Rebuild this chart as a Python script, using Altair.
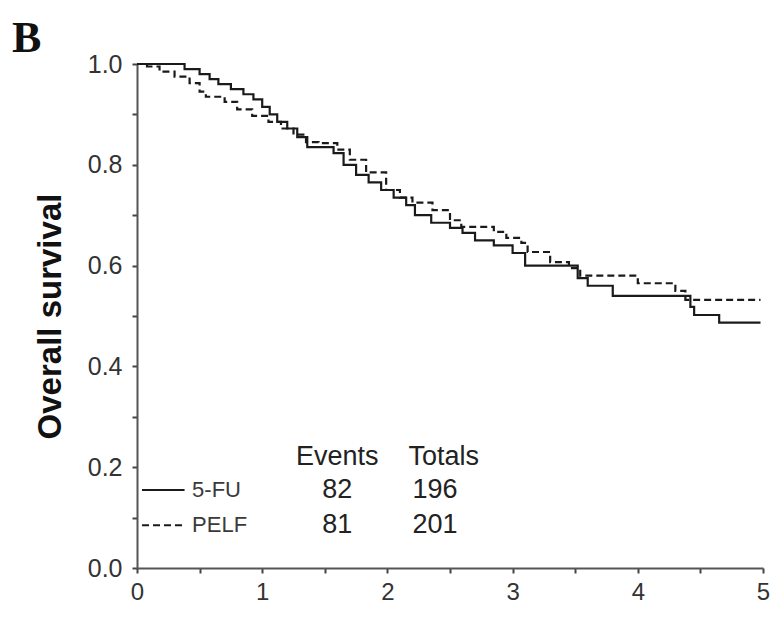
import altair as alt
import pandas as pd

# Kaplan-Meier step points (time in years, survival)
fu_time = [0, 0.38, 0.50, 0.58, 0.65, 0.75, 0.85, 0.93, 1.00, 1.06, 1.12, 1.20, 1.28, 1.36,
           1.57, 1.65, 1.75, 1.85, 1.95, 2.05, 2.15, 2.22, 2.35, 2.50, 2.60, 2.70, 2.85,
           3.00, 3.10, 3.52, 3.60, 3.80, 4.42, 4.45, 4.65, 4.98]
fu_surv = [1.0, 0.99, 0.98, 0.97, 0.96, 0.95, 0.94, 0.93, 0.915, 0.90, 0.885, 0.872, 0.855, 0.835,
           0.823, 0.80, 0.78, 0.765, 0.75, 0.735, 0.72, 0.70, 0.685, 0.675, 0.665, 0.65, 0.64,
           0.625, 0.60, 0.575, 0.56, 0.54, 0.518, 0.502, 0.487, 0.487]

pelf_time = [0, 0.08, 0.18, 0.30, 0.42, 0.50, 0.55, 0.70, 0.80, 0.92, 1.05, 1.15, 1.25, 1.35,
             1.45, 1.60, 1.70, 1.83, 1.99, 2.10, 2.20, 2.36, 2.50, 2.59, 2.85, 2.95, 3.07,
             3.12, 3.30, 3.45, 3.54, 4.00, 4.30, 4.38, 4.98]
pelf_surv = [1.0, 0.995, 0.985, 0.975, 0.962, 0.945, 0.935, 0.925, 0.91, 0.897, 0.885, 0.872, 0.86, 0.845,
             0.843, 0.83, 0.81, 0.785, 0.75, 0.735, 0.725, 0.71, 0.69, 0.677, 0.667, 0.655, 0.645,
             0.627, 0.607, 0.595, 0.58, 0.565, 0.55, 0.532, 0.532]

groups = ["5-FU", "PELF"]
events = [82, 81]
totals = [196, 201]
headers = ["Events", "Totals"]

curves = pd.concat([
    pd.DataFrame({"t": fu_time, "s": fu_surv, "group": groups[0]}),
    pd.DataFrame({"t": pelf_time, "s": pelf_surv, "group": groups[1]}),
])

legend_df = pd.DataFrame({"group": groups, "events": events, "totals": totals,
                          "row": [0.155, 0.085]})
header_df = pd.DataFrame({"h": headers, "pos": [1.60, 2.45]})

dash = alt.StrokeDash("group:N", scale=alt.Scale(domain=groups, range=[[1, 0], [7, 4]]), legend=None)

x_axis = alt.Axis(values=[i * 0.5 for i in range(11)],
                  labelExpr="datum.value % 1 == 0 ? format(datum.value, 'd') : ''",
                  title=None, grid=False, labelFlush=False, labelFontSize=24, labelColor="#333",
                  labelFont="Liberation Sans", labelPadding=7, tickSize=5, tickWidth=2,
                  tickColor="#444", domainColor="#555", domainWidth=2)
y_axis = alt.Axis(values=[i / 10 for i in range(11)],
                  labelExpr="round(datum.value * 10) % 2 == 0 ? format(datum.value, '.1f') : ''",
                  title="Overall survival", titleFontSize=33, titleFont="Liberation Sans",
                  titleFontWeight="bold", titleColor="#111", titlePadding=20,
                  grid=False, labelFlush=False, labelFontSize=25, labelColor="#333",
                  labelFont="Liberation Sans", labelPadding=10, tickSize=5, tickWidth=2,
                  tickColor="#444", domainColor="#555", domainWidth=2)

xs = alt.Scale(domain=[0, 5], nice=False)
ys = alt.Scale(domain=[0, 1], nice=False)

lines = alt.Chart(curves).mark_line(interpolate="step-after", strokeWidth=2.2, color="#1a1a1a").encode(
    x=alt.X("t:Q", scale=xs, axis=x_axis),
    y=alt.Y("s:Q", scale=ys, axis=y_axis),
    strokeDash=dash,
    detail="group:N",
)

leg_lines = alt.Chart(legend_df).mark_rule(strokeWidth=2, color="#1a1a1a").encode(
    x=alt.datum(0.04), x2=alt.datum(0.38), y=alt.Y("row:Q"), strokeDash=dash,
)
leg_labels = alt.Chart(legend_df).mark_text(align="left", baseline="middle", fontSize=22,
                                             font="Liberation Sans", color="#3a3a3a").encode(
    x=alt.datum(0.44), y=alt.Y("row:Q"), text="group:N")
ev_text = alt.Chart(legend_df).mark_text(align="center", baseline="middle", fontSize=27,
                                          font="Liberation Sans", color="#222").encode(
    x=alt.datum(1.60), y=alt.Y("row:Q"), text="events:Q")
tot_text = alt.Chart(legend_df).mark_text(align="center", baseline="middle", fontSize=27,
                                           font="Liberation Sans", color="#222").encode(
    x=alt.datum(2.38), y=alt.Y("row:Q"), text="totals:Q")
hdr_text = alt.Chart(header_df).mark_text(align="center", baseline="middle", fontSize=27,
                                           font="Liberation Sans", color="#222").encode(
    x=alt.X("pos:Q"), y=alt.datum(0.22), text="h:N")

chart = alt.layer(lines, leg_lines, leg_labels, ev_text, tot_text, hdr_text).properties(
    width=626, height=504,
    title=alt.TitleParams("B", anchor="start", frame="group", dx=-125, offset=-9,
                          fontSize=44, font="Liberation Serif", fontWeight="bold", color="#111"),
    autosize=alt.AutoSizeParams(type="none"),
    padding={"left": 129, "top": 56, "right": 7, "bottom": 41},
).configure_view(stroke=None)

chart.save("out.html", embed_options={"renderer": "svg", "actions": False})
